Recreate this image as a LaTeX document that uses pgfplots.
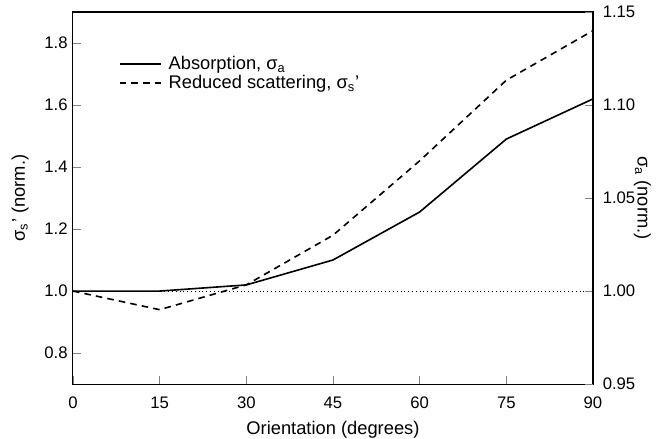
\documentclass[border=0pt]{standalone}
\usepackage{pgfplots}
\pgfplotsset{compat=1.18}
\usepackage{fontspec}
\setmainfont{Liberation Sans}
\newcommand{\fs}{\fontsize{12.5}{15}\selectfont}
\newcommand{\ft}{\fontsize{11.4}{13}\selectfont}
\begin{document}
\begin{tikzpicture}
\pgfplotsset{every axis/.append style={
  scale only axis, width=355pt, height=254pt,
  tick align=inside, major tick length=5.5pt,
  /pgf/number format/assume math mode=true,
  tick label style={font=\ft},
  label style={font=\fs},
  line width=0.7pt,
}}
\begin{axis}[
  name=a,
  xmin=0, xmax=90, ymin=0.7, ymax=1.9,
  xtick={0,15,30,45,60,75,90},
  ytick={0.8,1.0,1.2,1.4,1.6,1.8},
  yticklabel style={/pgf/number format/fixed, /pgf/number format/fixed zerofill, /pgf/number format/precision=1},
  xticklabel style={yshift=-5pt},
  xtick pos=bottom, ytick pos=left,
  xlabel={Orientation (degrees)},
  ylabel={σ\textsubscript{s}' (norm.)},
  xlabel style={at={(axis description cs:0.5,-0.122)}, anchor=center},
  ylabel style={at={(axis description cs:-0.1014,0.5)}, anchor=center},
  legend style={draw=none, fill=none, inner sep=0pt, at={(0.087,0.89)}, anchor=north west, font=\fs, row sep=-1.5pt, nodes={inner sep=2pt}},
  legend cell align=left,
  legend image code/.code={\draw[#1, line width=1.1pt] (0pt,0pt) -- (28pt,0pt); \path (31pt,0pt);},
]
\addlegendimage{black, solid, line width=1.1pt}
\addlegendentry{Absorption, σ\textsubscript{a}}
\addplot[black, line width=1.1pt, dash pattern=on 4.5pt off 3.5pt] coordinates {
  (0,1.0) (15,0.94) (30,1.02) (45,1.18) (60,1.42) (75,1.68) (90,1.84)
};
\addlegendentry{Reduced scattering, σ\textsubscript{s}'}
\addplot[black, line width=0.6pt, dotted, forget plot] coordinates {(0,1.0) (90,1.0)};
\end{axis}
\begin{axis}[
  xmin=0, xmax=90, ymin=0.95, ymax=1.15,
  axis y line*=right, axis x line=none,
  ytick={0.95,1.00,1.05,1.10,1.15},
  yticklabel style={xshift=3pt, /pgf/number format/fixed, /pgf/number format/fixed zerofill, /pgf/number format/precision=2},
  ylabel={σ\textsubscript{a} (norm.)},
  ylabel style={at={(axis description cs:1.095,0.5)}, anchor=center, rotate=180},
]
\addplot[black, line width=1.1pt] coordinates {
  (0,1.0) (15,1.0) (30,1.0033) (45,1.0167) (60,1.0425) (75,1.0817) (90,1.1033)
};
\end{axis}
\pgfresetboundingbox
\path ([xshift=-49.8pt,yshift=-36.9pt]a.south west) rectangle ([xshift=43.7pt,yshift=8.2pt]a.north east);
\end{tikzpicture}
\end{document}
